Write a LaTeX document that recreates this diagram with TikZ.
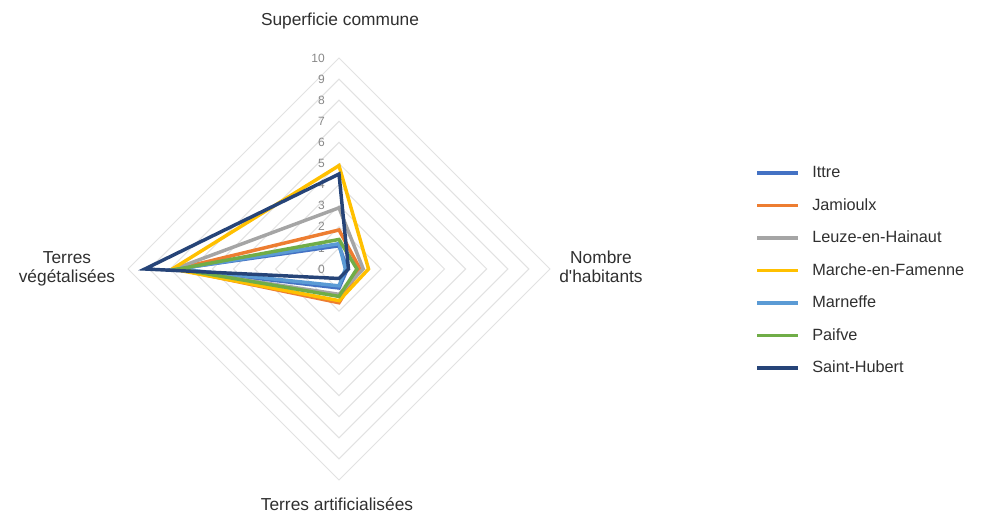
\documentclass[tikz,border=0pt]{standalone}
\usepackage{fontspec}
\setmainfont{Liberation Sans}
\usepackage{tikz}
\usetikzlibrary{positioning}
\definecolor{ittre}{HTML}{4472C4}
\definecolor{jamioulx}{HTML}{ED7D31}
\definecolor{leuze}{HTML}{A5A5A5}
\definecolor{marche}{HTML}{FFC000}
\definecolor{marneffe}{HTML}{5B9BD5}
\definecolor{paifve}{HTML}{70AD47}
\definecolor{sthubert}{HTML}{264478}
\definecolor{gridgray}{HTML}{E2E2E2}
\definecolor{labelgray}{HTML}{303030}
\definecolor{tickgray}{HTML}{888888}

\begin{document}
\begin{tikzpicture}[
    x=0.75pt, y=0.75pt,
    axislabel/.style={font=\fontsize{13}{14.5}\selectfont, text=labelgray, align=center, inner sep=0pt},
    ticklabel/.style={font=\fontsize{9}{10}\selectfont, text=tickgray, anchor=east, inner sep=0pt},
    legtext/.style={font=\fontsize{12.2}{15}\selectfont, text=labelgray, anchor=west, inner sep=0pt, text height=9.5pt, text depth=2.5pt},
    gridline/.style={draw=gridgray, line width=0.75pt},
    series/.style={line width=2.6pt, line join=miter}
]
    \fill[white] (-339,-247) rectangle (655,269);
    \coordinate (center) at (0,0);

    \foreach \k in {1,...,10}
        \draw[gridline] (0,21.1*\k) -- (21.1*\k,0) -- (0,-21.1*\k) -- (-21.1*\k,0) -- cycle;
    \foreach \k in {0,...,10}
        \node[ticklabel] (tick\k) at (-14,21.1*\k) {\k};

    \node[axislabel] (superficie) at (1,248) {Superficie commune};
    \node[axislabel] (habitants) at (262,2) {Nombre\\d\textquotesingle habitants};
    \node[axislabel] (artificiel) at (-2,-235) {Terres artificialisées};
    \node[axislabel] (vegetal) at (-272,0) {Terres\\végétalisées};

    \foreach \col/\t/\r/\b/\l in {ittre/1.1/0.4/0.9/7.7, jamioulx/1.85/1.0/1.6/7.7,
        leuze/2.9/1.15/1.2/7.8, marche/4.9/1.4/1.5/7.9, marneffe/1.2/0.3/0.8/7.6,
        paifve/1.4/0.85/1.3/7.6, sthubert/4.5/0.45/0.45/9.2}
        \draw[series, \col] (0,21.1*\t) -- (21.1*\r,0) -- (0,-21.1*\b) -- (-21.1*\l,0) -- cycle;

    \foreach \name/\col [count=\i] in {Ittre/ittre, Jamioulx/jamioulx, Leuze-en-Hainaut/leuze,
        Marche-en-Famenne/marche, Marneffe/marneffe, Paifve/paifve, Saint-Hubert/sthubert}
    {
        \node[legtext] (leg\i) at (473,96-32.5*\i+32.5) {\name};
        \draw[\col, line width=2.6pt] (418,96-32.5*\i+32.5) -- (459,96-32.5*\i+32.5);
    }
\end{tikzpicture}
\end{document}
